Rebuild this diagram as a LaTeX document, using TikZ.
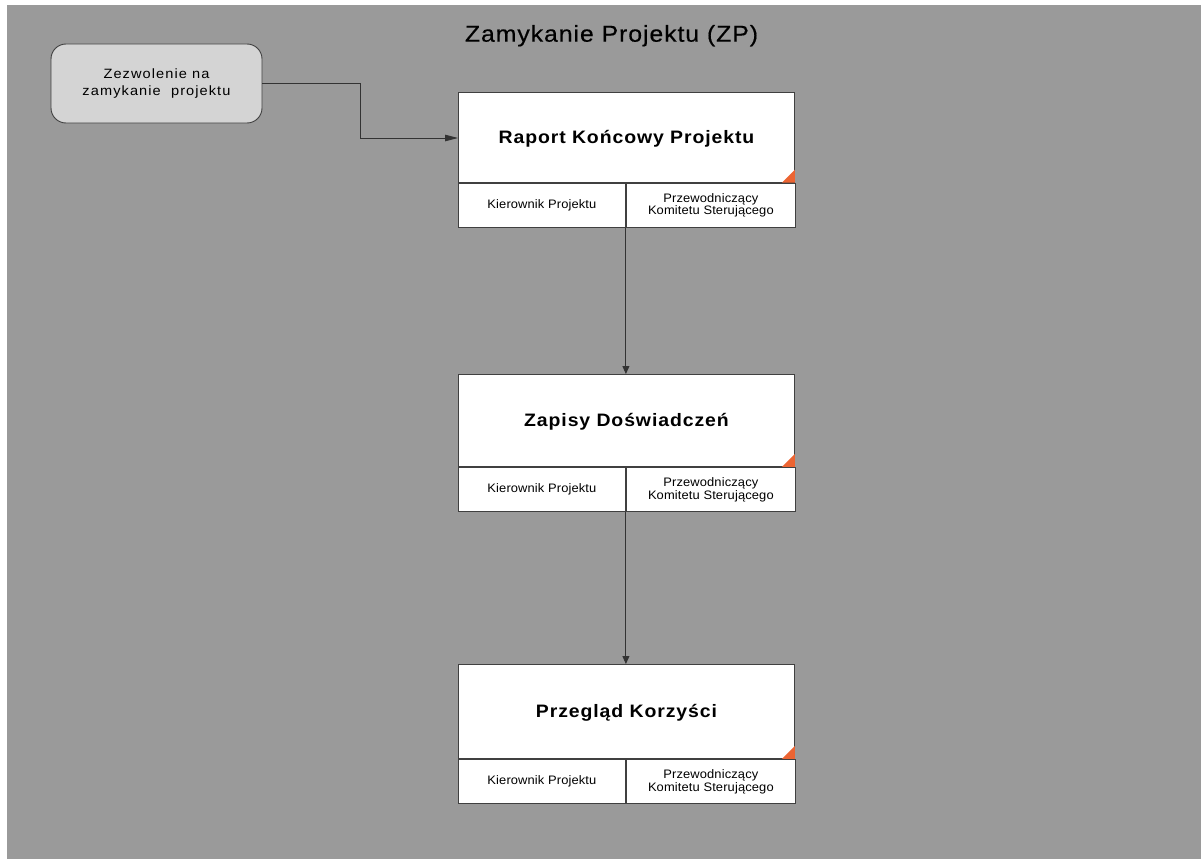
\documentclass[tikz,border=0pt]{standalone}
\usepackage{fontspec}
\setmainfont{Liberation Sans}
\newfontfamily\headfont[FakeStretch=1.08, LetterSpace=4, FakeBold=0.4]{Liberation Sans}
\newfontfamily\stagefont[FakeStretch=1.08, LetterSpace=5]{Liberation Sans}
\newfontfamily\cellfont[FakeStretch=1.05, LetterSpace=1]{Liberation Sans}
\newfontfamily\startfont[FakeStretch=1.08, LetterSpace=8]{Liberation Sans}
\usetikzlibrary{arrows.meta,positioning}

\definecolor{canvas}{HTML}{9A9A9A}
\definecolor{startfill}{HTML}{D4D4D4}
\definecolor{edge}{HTML}{404040}
\definecolor{flag}{HTML}{EC6432}

\tikzset{
  stage/.style={draw=edge, line width=0.9pt, fill=white, rectangle, anchor=north west,
    minimum width=336pt, inner sep=0pt, text height=13pt, text depth=0pt,
    font=\stagefont\fontsize{18}{21}\selectfont\bfseries},
  cellL/.style={draw=edge, line width=0.9pt, fill=white, rectangle, anchor=north west,
    minimum width=167pt, minimum height=44.5pt, inner sep=0pt,
    font=\cellfont\fontsize{12.3}{12.7}\selectfont},
  cellR/.style={cellL, minimum width=169pt, align=center},
  startbox/.style={draw=edge, line width=0.9pt, fill=startfill, rounded corners=15pt,
    minimum width=211pt, minimum height=79pt, align=center,
    font=\startfont\fontsize{13.5}{16.7}\selectfont},
  link/.style={draw=edge!80!black, line width=0.9pt},
  sidetip/.style={link, -{Triangle[length=13pt,width=6.5pt]}},
  downtip/.style={link, -{Triangle[length=8pt,width=7pt]}},
}

\begin{document}
\begin{tikzpicture}[x=1pt, y=-1pt]
  \useasboundingbox (0,0) rectangle (1201,859);
  \fill[white] (0,0) rectangle (1201,859);
  \fill[canvas] (7,5) rectangle (1201,859);

  % heading
  \node[font=\headfont\fontsize{23}{26}\selectfont, anchor=base, inner sep=0pt] (title)
    at (611.5,41.7) {Zamykanie Projektu (ZP)};

  % trigger
  \node[startbox] (start) at (156.5,83.5) {Zezwolenie na\\zamykanie\ \ projektu};

  % stage 1
  \node[stage, minimum height=90pt] (s1) at (458,91.7) {Raport Końcowy Projektu};
  \node[cellL] (k1) at (s1.south west) {Kierownik Projektu};
  \node[cellR] (p1) at (k1.north east) {Przewodniczący\\Komitetu Sterującego};
  \fill[flag] (s1.south east) -- ++(-13,0) -- ++(13,-13) -- cycle;

  % stage 2
  \node[stage, minimum height=92pt] (s2) at (458,374) {Zapisy Doświadczeń};
  \node[cellL] (k2) at (s2.south west) {Kierownik Projektu};
  \node[cellR] (p2) at (k2.north east) {Przewodniczący\\Komitetu Sterującego};
  \fill[flag] (s2.south east) -- ++(-13,0) -- ++(13,-13) -- cycle;

  % stage 3
  \node[stage, minimum height=94pt] (s3) at (458,664) {Przegląd Korzyści};
  \node[cellL] (k3) at (s3.south west) {Kierownik Projektu};
  \node[cellR] (p3) at (k3.north east) {Przewodniczący\\Komitetu Sterującego};
  \fill[flag] (s3.south east) -- ++(-13,0) -- ++(13,-13) -- cycle;

  % connectors
  \coordinate (bend) at (360,138);
  \draw[sidetip] (start.east) -| (bend) -- (s1.west |- bend);
  \draw[downtip] (k1.south east) -- (k1.south east |- s2.north);
  \draw[downtip] (k2.south east) -- (k2.south east |- s3.north);
\end{tikzpicture}
\end{document}
